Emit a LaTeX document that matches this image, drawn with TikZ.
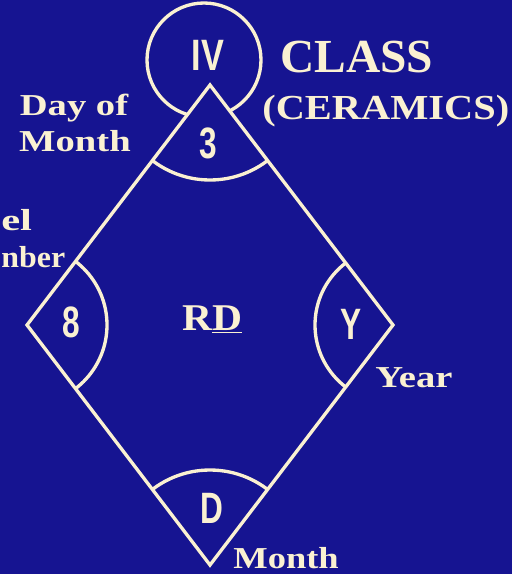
\documentclass[tikz,border=0pt]{standalone}
\usepackage{fontspec}
\setmainfont{Liberation Serif}
\newfontfamily\digfont{Liberation Sans}
\definecolor{bgblue}{RGB}{22,20,145}
\definecolor{cream}{RGB}{250,241,210}
\newcommand{\lbl}[2][1.27]{\scalebox{#1}[1]{\bfseries #2}}
\newcommand{\dig}[2][0.72]{\scalebox{#1}[1]{\digfont\bfseries #2}}
\begin{document}
\begin{tikzpicture}[x=0.02cm,y=-0.02cm,
  ln/.style={draw=cream,line width=1.9pt},
  lab/.style={text=cream,inner sep=0pt,font=\fontsize{17.3}{20}\selectfont},
  digit/.style={text=cream,inner sep=0pt,font=\fontsize{25}{28}\selectfont}]
\useasboundingbox (0,0) rectangle (512,574);
\clip (0,0) rectangle (512,574);
\fill[bgblue] (0,0) rectangle (512,574);
\coordinate (T) at (210,85);
\coordinate (L) at (27,325);
\coordinate (R) at (393,325);
\coordinate (B) at (210,565);
\coordinate (C) at (204,60);
% class circle
\draw[ln] (C) circle[radius=57];
\fill[bgblue] (T) -- (L) -- (B) -- (R) -- cycle;
% corner arcs
\begin{scope}
  \clip (T) -- (L) -- (B) -- (R) -- cycle;
  \draw[ln] (T) circle[radius=95];
  \draw[ln] (L) circle[radius=80];
  \draw[ln] (R) circle[radius=78];
  \draw[ln] (B) circle[radius=95];
\end{scope}
\draw[ln,line join=miter] (T) -- (L) -- (B) -- (R) -- cycle;
% symbols
\node[digit] (iv) at (208,55) {\dig[0.78]{IV}};
\node[digit] (three) at (208,143) {\dig{3}};
\node[digit] (eight) at (71,322) {\dig{8}};
\node[digit] (yy) at (351,324) {\dig{Y}};
\node[digit] (dd) at (212,508) {\dig{D}};
% labels
\node[lab,anchor=base] (day) at (74,116) {\lbl{Day of}};
\node[lab,anchor=base] (month1) at (75,152) {\lbl{Month}};
\node[lab,anchor=base west,font=\fontsize{27}{30}\selectfont] (class) at (280,73) {\lbl[1.0]{CLASS}};
\node[lab,anchor=base west,font=\fontsize{20}{24}\selectfont] (cer) at (262,120) {\lbl[1.15]{(CERAMICS)}};
\node[lab,anchor=base west] (vessel) at (1,230) {\lbl[1.4]{el}};
\node[lab,anchor=base west] (number) at (1,267) {\lbl[1.05]{nber}};
\node[lab,anchor=base west] (year) at (375,387) {\lbl{Year}};
\node[lab,anchor=base west] (month2) at (233,568) {\lbl[1.2]{Month}};
\node[lab,anchor=base west,font=\fontsize{21.5}{24}\selectfont] (rd) at (182,330) {\lbl[1.1]{R\underline{D}}};
\end{tikzpicture}
\end{document}
